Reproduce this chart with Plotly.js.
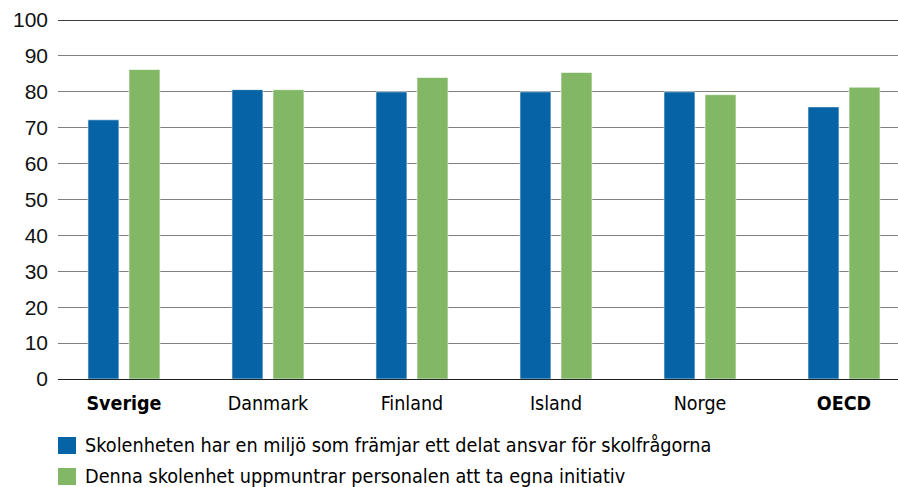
<!DOCTYPE html>
<html>
<head>
<meta charset="utf-8">
<script src="https://cdn.plot.ly/plotly-3.0.1.min.js"></script>
<style>html,body{margin:0;padding:0;background:#fff;}#chart{width:898px;height:487px;}</style>
</head>
<body>
<div id="chart"></div>
<script>
const categories = ["Sverige", "Danmark", "Finland", "Island", "Norge", "OECD"];
const categoryLabels = ["<b>Sverige</b>", "Danmark", "Finland", "Island", "Norge", "<b>OECD</b>"];
const seriesNames = [
  "Skolenheten har en miljö som främjar ett delat ansvar för skolfrågorna",
  "Denna skolenhet uppmuntrar personalen att ta egna initiativ"
];
const sharedResponsibility = [72.2, 80.6, 80.0, 80.0, 80.0, 75.8];
const ownInitiative = [86.2, 80.6, 84.0, 85.4, 79.2, 81.3];
const yTicks = [0, 10, 20, 30, 40, 50, 60, 70, 80, 90, 100];

const colors = ["#0563a6", "#82b865"];
const narrow = "'DejaVu Sans Condensed', 'Liberation Sans', sans-serif";

const traces = [sharedResponsibility, ownInitiative].map((vals, i) => ({
  type: "bar",
  name: seriesNames[i],
  x: categories,
  y: vals,
  marker: {color: colors[i], line: {color: "rgba(255,255,255,0.6)", width: 1}},
  hoverinfo: "x+y"
}));

const layout = {
  width: 898, height: 487,
  margin: {l: 58, r: 0, t: 20, b: 108},
  paper_bgcolor: "#fff", plot_bgcolor: "#fff",
  showlegend: false,
  barmode: "group",
  bargap: 0.43,
  bargroupgap: 0.245,
  xaxis: {
    type: "category",
    range: [-0.458, 5.375],
    tickvals: categories,
    ticktext: categoryLabels,
    showgrid: false,
    zeroline: false,
    showline: true,
    linecolor: "#222",
    linewidth: 1,
    ticks: "",
    ticklabelstandoff: 7,
    tickfont: {family: narrow, size: 19.5, color: "#000"}
  },
  yaxis: {
    range: [0, 100],
    tickvals: yTicks,
    showgrid: true,
    gridcolor: "#808080",
    gridwidth: 1,
    zeroline: false,
    showline: false,
    ticks: "",
    ticklabelstandoff: 9,
    tickfont: {family: "'Liberation Sans', Arial, sans-serif", size: 21, color: "#111"}
  },
  shapes: [
    {type: "line", xref: "paper", yref: "y", x0: 0, x1: 1, y0: 100, y1: 100, line: {color: "#000", width: 1.5}},
    {type: "rect", xref: "paper", yref: "paper", x0: 0, x1: 18/840, y0: -(437-379)/359, y1: -(454-379)/359, fillcolor: colors[0], line: {width: 0}},
    {type: "rect", xref: "paper", yref: "paper", x0: 0, x1: 18/840, y0: -(468-379)/359, y1: -(485-379)/359, fillcolor: colors[1], line: {width: 0}}
  ],
  annotations: seriesNames.map((n, i) => ({
    text: n, xref: "paper", yref: "paper", x: 25/840, y: -((i === 0 ? 445.5 : 476.5) - 379)/359,
    xanchor: "left", yanchor: "middle", showarrow: false,
    font: {family: narrow, size: 19.7, color: "#000"}
  }))
};

Plotly.newPlot("chart", traces, layout, {displayModeBar: false, staticPlot: true});
</script>
</body>
</html>
